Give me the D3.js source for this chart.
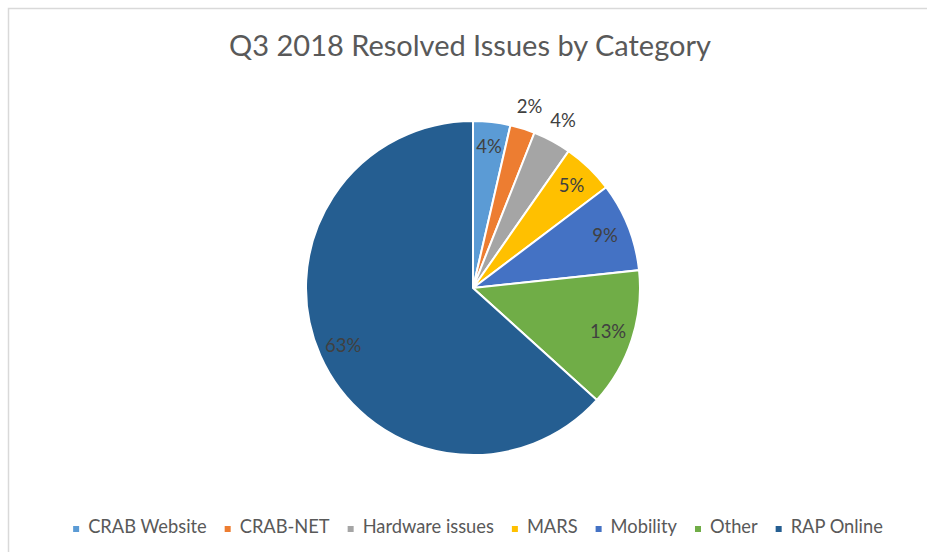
<!DOCTYPE html>
<html>
<head>
<meta charset="utf-8">
<script src="https://cdn.jsdelivr.net/npm/d3@7"></script>
<style>
  body { margin: 0; background: #fff; }
  svg { display: block; font-family: Lato, "Open Sans", sans-serif; }
</style>
</head>
<body>
<svg id="chart" width="927" height="552"></svg>
<script>
var categories = ["CRAB Website", "CRAB-NET", "Hardware issues", "MARS", "Mobility", "Other", "RAP Online"],
    shares = [3.6, 2.4, 3.7, 5.0, 8.6, 13.4, 63.3],
    colors = ["#5b9bd5", "#ed7d31", "#a5a5a5", "#ffc000", "#4472c4", "#70ad47", "#255e91"],
    outsideLabels = ["CRAB-NET", "Hardware issues"],
    title = "Q3 2018 Resolved Issues by Category";

var svg = d3.select("#chart"),
    WIDTH = 927,
    HEIGHT = 552,
    CX = 473,
    CY = 288,
    R = 167;

// chart area border (only top and left visible)
svg.append("path")
    .attr("d", "M8.5," + HEIGHT + "V8.5H" + WIDTH)
    .attr("fill", "none")
    .attr("stroke", "#d9d9d9")
    .attr("stroke-width", 1.5);

svg.append("text")
    .attr("x", 470)
    .attr("y", 56)
    .attr("text-anchor", "middle")
    .attr("fill", "#595959")
    .style("font-size", "29px")
    .text(title);

var data = categories.map(function(c, i) {
  return { name: c, value: shares[i], color: colors[i] };
});

var pie = d3.pie()
    .sort(null)
    .value(function(d) { return d.value; });

var arc = d3.arc().innerRadius(0).outerRadius(R);
var arcIn = d3.arc().innerRadius(142).outerRadius(142);
var arcOut = d3.arc().innerRadius(190).outerRadius(190);

var g = svg.append("g")
    .attr("transform", "translate(" + CX + "," + CY + ")");

var arcs = pie(data);

g.selectAll("path.slice")
    .data(arcs)
    .enter().append("path")
    .attr("class", "slice")
    .attr("d", arc)
    .attr("fill", function(d) { return d.data.color; })
    .attr("stroke", "#fff")
    .attr("stroke-width", 2);

g.selectAll("text.lbl")
    .data(arcs)
    .enter().append("text")
    .attr("class", "lbl")
    .attr("transform", function(d) {
      var a = outsideLabels.indexOf(d.data.name) >= 0 ? arcOut : arcIn;
      return "translate(" + a.centroid(d) + ")";
    })
    .attr("text-anchor", "middle")
    .attr("dy", "0.35em")
    .attr("fill", "#404040")
    .style("font-size", "18.5px")
    .text(function(d) { return Math.round(d.data.value) + "%"; });

// legend
var legend = svg.append("g");
var items = legend.selectAll("g.item")
    .data(data)
    .enter().append("g")
    .attr("class", "item");

items.append("rect")
    .attr("width", 6)
    .attr("height", 6)
    .attr("y", -7)
    .attr("fill", function(d) { return d.color; });

items.append("text")
    .attr("x", 15)
    .attr("fill", "#595959")
    .style("font-size", "18.3px")
    .text(function(d) { return d.name; });

var x = 0;
items.each(function() {
  var t = d3.select(this).select("text").node().getComputedTextLength();
  d3.select(this).attr("transform", "translate(" + x + ",0)");
  x += 15 + t + 18;
});
var total = x - 18;
legend.attr("transform", "translate(" + (478 - total / 2) + ",533)");
</script>
</body>
</html>
